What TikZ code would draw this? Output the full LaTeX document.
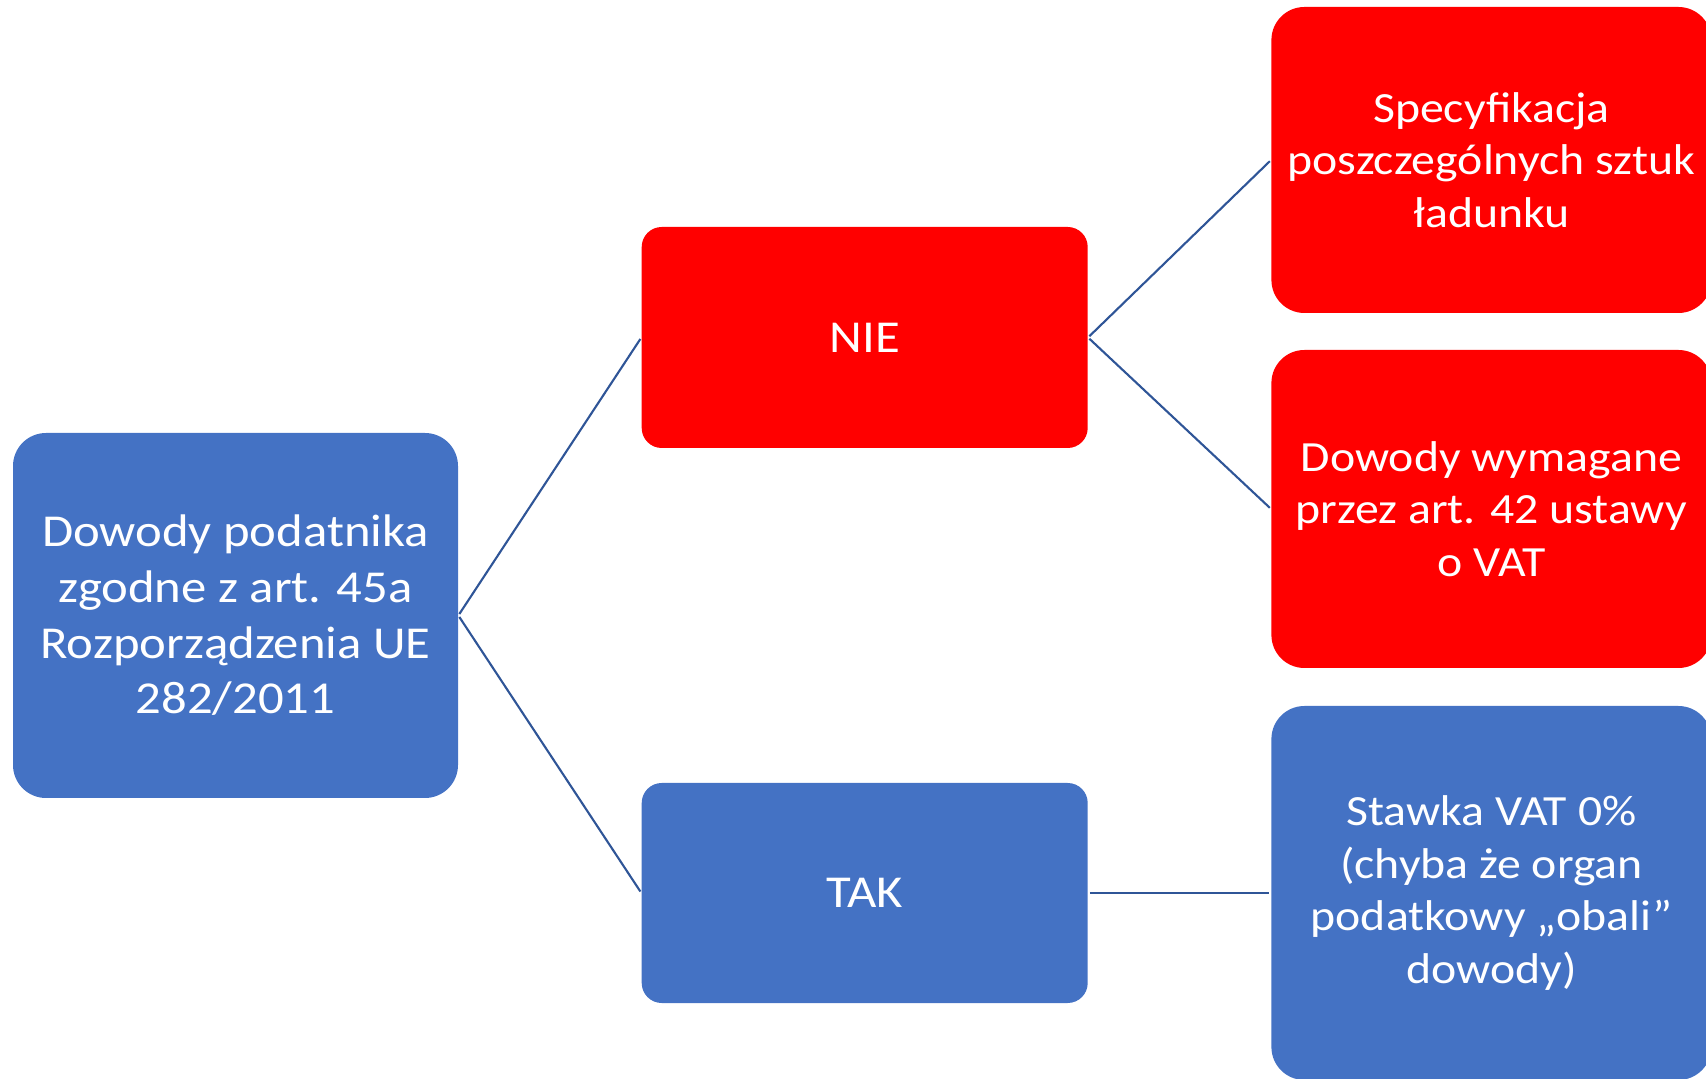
\documentclass[tikz,border=0pt]{standalone}
\usepackage{fontspec}
\setmainfont{Carlito}[FakeStretch=1.11]
\usepackage{tikz}
\usetikzlibrary{shapes}
\usetikzlibrary{arrows}
\usetikzlibrary{positioning}

\definecolor{boxblue}{RGB}{68,114,196}
\definecolor{boxred}{RGB}{255,0,0}
\definecolor{linkblue}{RGB}{47,85,151}

\begin{document}
\begin{tikzpicture}[-,shorten >=1pt,shorten <=1pt,auto,node distance=3.66cm,
                    every edge/.style={draw=linkblue,line width=1.2pt},
                    main node/.style={rectangle,rounded corners=0.66cm,inner sep=0pt,text=white,
                                      align=center,font=\fontsize{26}{31.7}\selectfont},
                    blue node/.style={main node,fill=boxblue},
                    red node/.style={main node,fill=boxred},
                    side node/.style={minimum width=8.8cm,font=\fontsize{24.5}{30}\selectfont}]

		\useasboundingbox (0,0) rectangle (34.12,21.56);
		\clip (0,0) rectangle (34.12,21.56);

		\node[blue node,minimum width=8.9cm,minimum height=7.3cm] (root) at (4.71,9.25)
			{Dowody podatnika\\zgodne z art. 45a\\Rozporządzenia UE\\282/2011};
		\node[red node,rounded corners=0.4cm,minimum width=8.92cm,minimum height=4.42cm] (nie)
			[right=of root,yshift=5.56cm] {NIE};
		\node[blue node,rounded corners=0.4cm,minimum width=8.92cm,minimum height=4.4cm] (tak)
			[right=of root,yshift=-5.55cm] {TAK};
		\node[red node,side node,minimum height=6.12cm] (spec) [right=of nie,yshift=3.55cm]
			{Specyfikacja\\poszczególnych sztuk\\ładunku};
		\node[red node,side node,minimum height=6.36cm] (ustawa) [right=of nie,yshift=-3.43cm]
			{Dowody wymagane\\przez art. 42 ustawy\\o VAT};
		\node[blue node,side node,minimum height=7.48cm] (stawka) [right=of tak]
			{Stawka VAT 0\%\\(chyba że organ\\podatkowy „obali”\\dowody)};

		\path
		(root.east) edge (nie.west)
		(root.east) edge (tak.west)
		(nie.east) edge (spec.west)
		(nie.east) edge (ustawa.west)
		(tak.east) edge (stawka.west);
	\end{tikzpicture}
\end{document}
